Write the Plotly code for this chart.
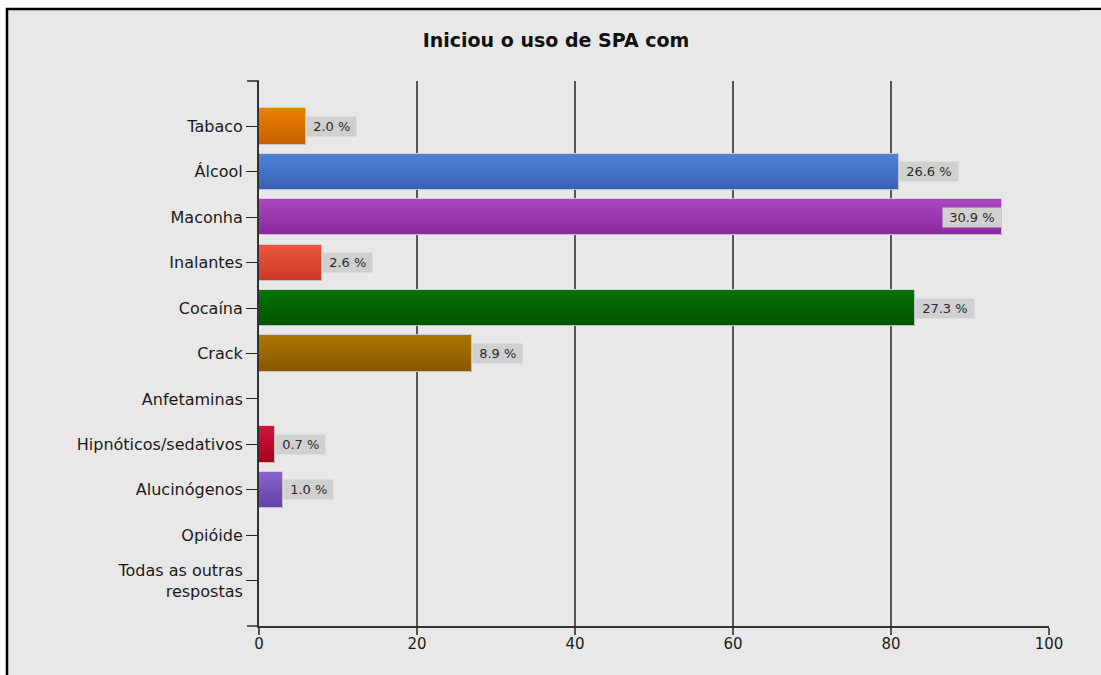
import plotly.graph_objects as go

# Substances and number of respondents who started with each one
categories = [
    "Tabaco", "Álcool", "Maconha", "Inalantes", "Cocaína", "Crack",
    "Anfetaminas", "Hipnóticos/sedativos", "Alucinógenos", "Opióide",
    "Todas as outras<br>respostas",
]
counts = [6, 81, 94, 8, 83, 27, 0, 2, 3, 0, 0]

# Two-tone shading for each bar (upper edge, lower edge)
top_colors = [
    "#ea8200", "#5283d9", "#aa46bf", "#e9553c", "#037403", "#a97600",
    "#888888", "#d3123c", "#8763cb", "#888888", "#888888",
]
bottom_colors = [
    "#c65e00", "#3761b6", "#88299e", "#cc3a26", "#005300", "#885600",
    "#666666", "#a6001c", "#6540a6", "#666666", "#666666",
]
x_ticks = [0, 20, 40, 60, 80, 100]

total = sum(counts)
percent = [c / total * 100 for c in counts]


def hex_to_rgb(h):
    h = h.lstrip("#")
    return tuple(int(h[i:i + 2], 16) for i in (0, 2, 4))


def mix(c1, c2, t):
    a, b = hex_to_rgb(c1), hex_to_rgb(c2)
    return "rgb({},{},{})".format(*[round(a[k] + (b[k] - a[k]) * t) for k in range(3)])


BAR_W = 0.8
N_STRIPES = 14

fig = go.Figure()

# Bars are built from thin horizontal slices so the fill shades from top to bottom
for i in range(N_STRIPES):
    t = (i + 0.5) / N_STRIPES
    fig.add_trace(go.Bar(
        x=counts, y=categories, orientation="h",
        width=BAR_W / N_STRIPES,
        offset=-BAR_W / 2 + i * BAR_W / N_STRIPES,
        marker=dict(color=[mix(a, b, t) for a, b in zip(top_colors, bottom_colors)],
                    line=dict(width=0)),
        showlegend=False, hoverinfo="skip",
    ))

# Light outline around each bar
fig.add_trace(go.Bar(
    x=counts, y=categories, orientation="h", width=BAR_W,
    marker=dict(color="rgba(0,0,0,0)", line=dict(color="rgba(205,205,205,0.9)", width=1)),
    showlegend=False, hoverinfo="skip",
))

# Percentage labels in grey boxes next to the bar ends
annotations = []
for cat, c, p in zip(categories, counts, percent):
    if c <= 0:
        continue
    inside = c + 8 > 100
    annotations.append(dict(
        x=c, y=cat, xref="x", yref="y",
        text="\u00a0{:.1f} %\u00a0".format(p),
        showarrow=False,
        xanchor="right" if inside else "left",
        yanchor="middle",
        bgcolor="#d0d0d0",
        borderpad=2,
        font=dict(family="DejaVu Sans", size=13, color="#2a2a2a"),
    ))

# pixel -> paper coordinate helpers for the frame decorations
PL, PR, PT, PB = 259, 1049, 81, 626


def px_x(px):
    return (px - PL) / (PR - PL)


def px_y(py):
    return (PB - py) / (PB - PT)


fig.update_layout(
    width=1101, height=675,
    margin=dict(l=PL, r=1101 - PR, t=PT, b=675 - PB),
    paper_bgcolor="#e8e8e8",
    plot_bgcolor="#e8e8e8",
    barmode="overlay",
    bargap=0,
    title=dict(
        text="<b>Iniciou o uso de SPA com</b>",
        x=556 / 1101, xanchor="center", xref="container",
        y=1 - 40 / 675, yanchor="middle", yref="container",
        font=dict(family="DejaVu Sans", size=19, color="#111111"),
    ),
    xaxis=dict(
        range=[0, 100], tickvals=x_ticks, ticktext=[str(v) for v in x_ticks],
        showgrid=True, gridcolor="#555555", gridwidth=2,
        zeroline=False,
        showline=True, linecolor="#333333", linewidth=1.5,
        ticks="outside", ticklen=7, tickwidth=2, tickcolor="#555555",
        ticklabelstandoff=-4,
        tickfont=dict(family="DejaVu Sans", size=15, color="#1a1a1a"),
        fixedrange=True,
    ),
    yaxis=dict(
        type="category", categoryorder="array", categoryarray=categories,
        range=[len(categories), -1],
        showgrid=False, zeroline=False,
        showline=True, linecolor="#333333", linewidth=2,
        ticks="outside", ticklen=11, tickwidth=1, tickcolor="#222222",
        tickfont=dict(family="DejaVu Sans", size=16, color="#1a1a1a"),
        fixedrange=True,
    ),
    annotations=annotations,
    shapes=[
        # white margin outside the panel (top strip and left strip)
        dict(type="rect", xref="paper", yref="paper",
             x0=px_x(-5), x1=px_x(1106), y0=px_y(8), y1=px_y(-5),
             fillcolor="white", line=dict(width=0), layer="below"),
        dict(type="rect", xref="paper", yref="paper",
             x0=px_x(-5), x1=px_x(6), y0=px_y(680), y1=px_y(-5),
             fillcolor="white", line=dict(width=0), layer="below"),
        # frame lines along the top and left of the panel
        dict(type="line", xref="paper", yref="paper",
             x0=px_x(6), x1=px_x(1110), y0=px_y(9), y1=px_y(9),
             line=dict(color="black", width=2.5), layer="below"),
        dict(type="line", xref="paper", yref="paper",
             x0=px_x(7), x1=px_x(7), y0=px_y(8), y1=px_y(680),
             line=dict(color="black", width=2.5), layer="below"),
        # panel fill along the right edge
        dict(type="rect", xref="paper", yref="paper",
             x0=px_x(1080), x1=px_x(1115), y0=px_y(690), y1=px_y(10.3),
             fillcolor="#e8e8e8", line=dict(width=0), layer="above"),
        # end marks on the left axis
        dict(type="line", xref="paper", yref="paper",
             x0=px_x(247), x1=0, y0=1, y1=1,
             line=dict(color="#222222", width=1.5), layer="above"),
        dict(type="line", xref="paper", yref="paper",
             x0=px_x(247), x1=0, y0=0, y1=0,
             line=dict(color="#333333", width=1.5), layer="above"),
    ],
)

fig.write_html("out.html")
